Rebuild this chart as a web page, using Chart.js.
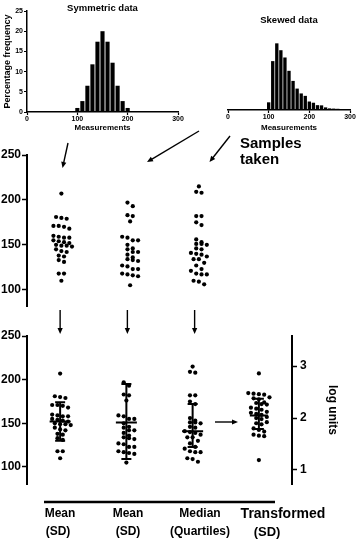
<!DOCTYPE html>
<html>
<head>
<meta charset="utf-8">
<script src="https://cdn.jsdelivr.net/npm/chart.js@4.4.1/dist/chart.umd.min.js"></script>
<style>
    html, body { margin: 0; padding: 0; background: #fff; }
    #wrap { position: relative; width: 360px; height: 539px; overflow: hidden; }
    canvas { position: absolute; }
</style>
</head>
<body>
<div id="wrap">
    <canvas id="symChart" width="190" height="140" style="left:0;top:0"></canvas>
    <canvas id="skewChart" width="175" height="140" style="left:185px;top:0"></canvas>
    <canvas id="sampleChart" width="360" height="190" style="left:0;top:125px"></canvas>
    <canvas id="summaryChart" width="360" height="239" style="left:0;top:300px"></canvas>
</div>
<script>
// histogram data (percentage frequency per 10-unit bin)
const symBins = [100, 110, 120, 130, 140, 150, 160, 170, 180, 190, 200];
const symFreq = [1, 2.7, 6.5, 11.8, 17.4, 20, 17.4, 12.2, 6.5, 2.7, 1];
const skewBins = [100, 110, 120, 130, 140, 150, 160, 170, 180, 190, 200, 210, 220, 230, 240, 250, 260, 270, 280, 290, 300];
const skewFreq = [1.9, 12.1, 16.5, 14.8, 13.0, 9.7, 7.2, 5.3, 4.1, 3.5, 2.1, 1.8, 1.2, 1.15, 0.65, 0.4, 0.35, 0.3, 0.2, 0.15, 0.1];
const histXTicks = [0, 100, 200, 300];
const histYTicks = [0, 5, 10, 15, 20, 25];

// samples (measurements)
const sampleSym = [207, 181, 180, 179, 171, 170, 168, 171, 160, 158, 158, 159, 155, 153, 152, 154, 149, 150, 149, 148, 145, 143, 142, 138, 137, 133, 131, 118, 118, 110];
const sampleSkewA = [197, 193, 182, 183, 176, 158, 155, 155, 159, 150, 146, 145, 142, 139, 142, 136, 133, 132, 134, 126, 123, 123, 127, 118, 116, 115, 117, 105];
const sampleSkewB = [215, 209, 208, 182, 182, 172, 175, 156, 151, 150, 151, 153, 145, 146, 140, 137, 139, 141, 134, 134, 127, 130, 123, 121, 117, 117, 118, 110, 106, 109];
const sampleLog = [2.86, 2.48, 2.47, 2.46, 2.45, 2.40, 2.38, 2.36, 2.30, 2.29, 2.27, 2.26, 2.20, 2.18, 2.16, 2.12, 2.10, 2.08, 2.06, 2.02, 2.00, 1.98, 1.92, 1.90, 1.88, 1.80, 1.77, 1.74, 1.68, 1.66, 1.65, 1.19];
const scatterTicks = [100, 150, 200, 250];
const logTicks = [1, 2, 3];

// summary bars: centre (mean / median), lower and upper ends
const barCentre = [152, 151, 141, 2.05];
const barLow = [130, 109, 123, 1.79];
const barHigh = [174, 195, 172, 2.37];
const groupLabels = [['Mean', '(SD)'], ['Mean', '(SD)'], ['Median', '(Quartiles)'], ['Transformed', '(SD)']];

const FONT = '"Liberation Sans", Arial, Helvetica, sans-serif';
Chart.defaults.font.family = FONT;
Chart.defaults.color = '#000';

function arrow(ctx, x1, y1, x2, y2) {
    const a = Math.atan2(y2 - y1, x2 - x1);
    const h = 6, w = 2.6;
    ctx.beginPath();
    ctx.moveTo(x1, y1);
    ctx.lineTo(x2 - Math.cos(a) * h * 0.8, y2 - Math.sin(a) * h * 0.8);
    ctx.stroke();
    ctx.beginPath();
    ctx.moveTo(x2, y2);
    ctx.lineTo(x2 - h * Math.cos(a) + w * Math.sin(a), y2 - h * Math.sin(a) - w * Math.cos(a));
    ctx.lineTo(x2 - h * Math.cos(a) - w * Math.sin(a), y2 - h * Math.sin(a) + w * Math.cos(a));
    ctx.closePath();
    ctx.fill();
}

// free text, arrows and lines drawn on top of a chart
function notes(draw) {
    return {
        id: 'notes',
        afterDraw(chart) {
            const ctx = chart.ctx;
            ctx.save();
            ctx.fillStyle = '#000';
            ctx.strokeStyle = '#000';
            ctx.lineWidth = 1.4;
            draw(ctx, chart);
            ctx.restore();
        }
    };
}

function text(ctx, t, x, y, size, align) {
    ctx.font = 'bold ' + size + 'px ' + FONT;
    ctx.textAlign = align || 'center';
    ctx.textBaseline = 'middle';
    ctx.fillText(t, x, y);
}

// error bars / median-quartile bars
function errorBars(items) {
    return {
        id: 'errorBars',
        afterDatasetsDraw(chart) {
            const ctx = chart.ctx;
            const xs = chart.scales.x;
            ctx.save();
            ctx.strokeStyle = '#000';
            ctx.lineWidth = 2;
            items.forEach(function (it) {
                const ys = chart.scales[it.axis];
                const x = xs.getPixelForValue(it.col);
                const yl = ys.getPixelForValue(it.lo);
                const yc = ys.getPixelForValue(it.mid);
                const yh = ys.getPixelForValue(it.hi);
                ctx.beginPath();
                ctx.moveTo(x, yl); ctx.lineTo(x, yh);
                ctx.moveTo(x - it.capHalf, yl); ctx.lineTo(x + it.capHalf, yl);
                ctx.moveTo(x - it.capHalf, yh); ctx.lineTo(x + it.capHalf, yh);
                ctx.moveTo(x - it.midHalf, yc); ctx.lineTo(x + it.midHalf, yc);
                ctx.stroke();
            });
            ctx.restore();
        }
    };
}

// scatter-dot layout: points close in value share a row and are spread sideways
function rowOffsets(pys, rowH, gap) {
    const order = pys.map(function (v, i) { return i; }).sort(function (a, b) { return pys[a] - pys[b]; });
    const out = new Array(pys.length);
    let row = [];
    let prev = [];
    function flush() {
        let shift = 0;
        const xsFor = function (s) {
            return row.map(function (i, k) { return (k - (row.length - 1) / 2) * gap + s; });
        };
        const clash = function (xs) {
            return row.some(function (i, k) {
                return prev.some(function (p) {
                    return Math.abs(p.x - xs[k]) < gap * 0.8 && Math.abs(p.y - pys[i]) < rowH;
                });
            });
        };
        if (clash(xsFor(0))) shift = gap / 2;
        const xs = xsFor(shift);
        prev = row.map(function (i, k) { out[i] = xs[k]; return { x: xs[k], y: pys[i] }; });
        row = [];
    }
    order.forEach(function (i) {
        if (row.length && pys[i] - pys[row[0]] >= rowH) flush();
        row.push(i);
    });
    flush();
    return out;
}

function applyRows(chart) {
    const xs = chart.scales.x;
    const unit = xs.getPixelForValue(1) - xs.getPixelForValue(0);
    chart.data.datasets.forEach(function (ds) {
        const ys = chart.scales[ds.yAxisID || 'y'];
        const off = rowOffsets(ds.values.map(function (v) { return ys.getPixelForValue(v); }), 4.3, 5.3);
        ds.data = ds.values.map(function (v, i) { return { x: ds.col + off[i] / unit, y: v }; });
    });
    chart.update('none');
}

function pointSet(values, col, axis) {
    return {
        values: values,
        col: col,
        yAxisID: axis || 'y',
        data: values.map(function (v) { return { x: col, y: v }; }),
        pointRadius: 2.1,
        pointBackgroundColor: '#000',
        pointBorderWidth: 0,
        showLine: false
    };
}

function fixedTicks(list) {
    return function (scale) { scale.ticks = list.map(function (v) { return { value: v }; }); };
}

const axisBold = { family: FONT, size: 12, weight: 'bold' };

function histOptions(showY) {
    return {
        responsive: false,
        animation: false,
        events: [],
        plugins: { legend: { display: false }, tooltip: { enabled: false } },
        scales: {
            x: {
                type: 'linear', min: 0, max: 300, offset: false,
                afterBuildTicks: fixedTicks(histXTicks),
                afterFit: function (s) { s.height = showY ? 28 : 30; },
                border: { color: '#000', width: 1.5 },
                grid: { drawOnChartArea: false, tickLength: 3, tickColor: '#000', tickWidth: 1.2, offset: false },
                ticks: { padding: 0, font: { size: 7, weight: 'bold' } },
                title: { display: true, text: 'Measurements', font: { size: 8, weight: 'bold' }, padding: { top: 0, bottom: 7 } }
            },
            y: {
                display: showY, min: 0, max: 25,
                afterBuildTicks: fixedTicks(histYTicks),
                afterFit: function (s) { s.width = 27; },
                border: { color: '#000', width: 1.5 },
                grid: { drawOnChartArea: false, tickLength: 3, tickColor: '#000', tickWidth: 1.2 },
                ticks: { padding: 1, font: { size: 7, weight: 'bold' } },
                title: { display: true, text: 'Percentage frequency', font: { size: 9, weight: 'bold' }, padding: { top: 2.5, bottom: 0 } }
            }
        }
    };
}

// symmetric histogram
const symOpts = histOptions(true);
symOpts.layout = { padding: { top: 11, right: 12, bottom: 0, left: 0 } };
new Chart(document.getElementById('symChart'), {
    type: 'bar',
    data: {
        datasets: [{
            data: symBins.map(function (b, i) { return { x: b, y: symFreq[i] }; }),
            backgroundColor: '#000',
            barPercentage: 0.82,
            categoryPercentage: 1
        }]
    },
    options: symOpts,
    plugins: [notes(function (ctx, chart) {
        const a = chart.chartArea;
        text(ctx, 'Symmetric data', (a.left + a.right) / 2, 8.5, 9.5);
    })]
});

// skewed histogram
const skewOpts = histOptions(false);
skewOpts.layout = { padding: { top: 9, right: 10, bottom: 0, left: 16 } };
new Chart(document.getElementById('skewChart'), {
    type: 'bar',
    data: {
        datasets: [{
            data: skewBins.map(function (b, i) { return { x: b, y: skewFreq[i] }; }),
            backgroundColor: '#000',
            barPercentage: 0.82,
            categoryPercentage: 1
        }]
    },
    options: skewOpts,
    plugins: [notes(function (ctx, chart) {
        const a = chart.chartArea;
        text(ctx, 'Skewed data', (a.left + a.right) / 2, 20, 9.5);
    })]
});

function scatterY(min, max, list) {
    return {
        min: min, max: max,
        afterBuildTicks: fixedTicks(list),
        afterFit: function (s) { s.width = 27; },
        border: { color: '#000', width: 2 },
        grid: { drawOnChartArea: false, tickLength: 5, tickColor: '#000', tickWidth: 1.5 },
        ticks: { padding: 1, font: axisBold }
    };
}

// samples taken
const sampleChart = new Chart(document.getElementById('sampleChart'), {
    type: 'scatter',
    data: {
        datasets: [pointSet(sampleSym, 0), pointSet(sampleSkewA, 1), pointSet(sampleSkewB, 2)]
    },
    options: {
        responsive: false,
        animation: false,
        events: [],
        layout: { padding: { top: 30, right: 58, bottom: 5, left: 0 } },
        plugins: { legend: { display: false }, tooltip: { enabled: false } },
        scales: {
            x: { type: 'linear', min: -0.5, max: 3.5, display: false },
            y: scatterY(81, 250, scatterTicks)
        }
    },
    plugins: [notes(function (ctx) {
        arrow(ctx, 68, 18, 62.5, 43);
        arrow(ctx, 199, 6, 147, 37);
        arrow(ctx, 230, 11, 209.5, 37);
        text(ctx, 'Samples', 240, 19, 15, 'left');
        text(ctx, 'taken', 240, 35, 15, 'left');
    })]
});
applyRows(sampleChart);

// summaries
const summaryItems = barCentre.map(function (c, i) {
    return {
        col: i, axis: i === 3 ? 'y2' : 'y',
        lo: barLow[i], mid: c, hi: barHigh[i],
        capHalf: 5, midHalf: i === 3 ? 9 : 10.5
    };
});

const y2 = scatterY(0.73, 3.58, logTicks);
y2.position = 'right';
y2.afterFit = function (s) { s.width = 53; };
y2.ticks = { padding: 3, font: axisBold };
y2.title = { display: true, text: 'log units', font: axisBold, padding: { top: 5, bottom: 0 } };

const summaryChart = new Chart(document.getElementById('summaryChart'), {
    type: 'scatter',
    data: {
        datasets: [pointSet(sampleSym, 0), pointSet(sampleSkewA, 1), pointSet(sampleSkewB, 2), pointSet(sampleLog, 3, 'y2')]
    },
    options: {
        responsive: false,
        animation: false,
        events: [],
        layout: { padding: { top: 36, right: 15, bottom: 55, left: 0 } },
        plugins: { legend: { display: false }, tooltip: { enabled: false } },
        scales: {
            x: { type: 'linear', min: -0.5, max: 3.5, display: false },
            y: scatterY(80.5, 250, scatterTicks),
            y2: y2
        }
    },
    plugins: [errorBars(summaryItems), notes(function (ctx, chart) {
        const xs = chart.scales.x;
        [0, 1, 2].forEach(function (i) {
            const x = xs.getPixelForValue(i) + i;
            arrow(ctx, x, 10, x, 34);
        });
        arrow(ctx, 215, 122, 238, 122);
        ctx.lineWidth = 2.5;
        ctx.beginPath();
        ctx.moveTo(44, 202);
        ctx.lineTo(275, 202);
        ctx.stroke();
        const lx = [60, 128, 200, 283];
        const lx2 = [58, 128, 200, 267];
        groupLabels.forEach(function (g, i) {
            text(ctx, g[0], lx[i], 214, i === 3 ? 14 : 12);
            text(ctx, g[1], lx2[i], 232, i === 3 ? 13 : 12);
        });
    })]
});
applyRows(summaryChart);
</script>
</body>
</html>
